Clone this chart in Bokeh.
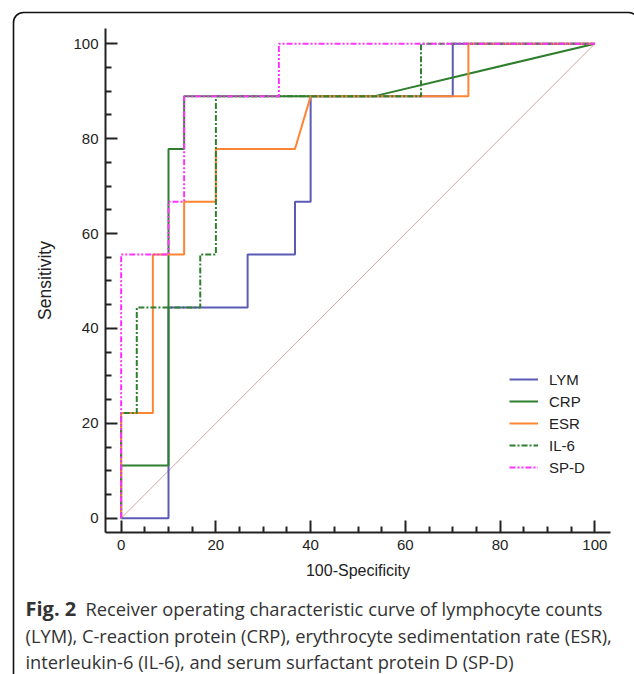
from bokeh.plotting import figure
from bokeh.models import FixedTicker, Range1d
from bokeh.core.properties import value
from bokeh.embed import file_html
from bokeh.resources import INLINE

# ---- data (100-Specificity, Sensitivity) ----
series_names = ["LYM", "CRP", "ESR", "IL-6", "SP-D"]

lym_x = [0, 10, 10, 26.7, 26.7, 36.7, 36.7, 40, 40, 70, 70, 100]
lym_y = [0, 0, 44.4, 44.4, 55.6, 55.6, 66.7, 66.7, 88.9, 88.9, 100, 100]

crp_x = [0, 0, 10, 10, 13.3, 13.3, 53.3, 100]
crp_y = [0, 11.1, 11.1, 77.8, 77.8, 88.9, 88.9, 100]

esr_x = [0, 0, 6.7, 6.7, 13.3, 13.3, 20, 20, 36.7, 40, 73.3, 73.3, 100]
esr_y = [0, 22.2, 22.2, 55.6, 55.6, 66.7, 66.7, 77.8, 77.8, 88.9, 88.9, 100, 100]

il6_x = [0, 0, 3.3, 3.3, 16.7, 16.7, 20, 20, 63.3, 63.3, 100]
il6_y = [0, 22.2, 22.2, 44.4, 44.4, 55.6, 55.6, 88.9, 88.9, 100, 100]

spd_x = [0, 0, 10, 10, 13.3, 13.3, 33.3, 33.3, 100]
spd_y = [0, 55.6, 55.6, 66.7, 66.7, 88.9, 88.9, 100, 100]

chance_x = [0, 100]
chance_y = [0, 100]

major_ticks = [0, 20, 40, 60, 80, 100]
minor_ticks = [5, 10, 15, 25, 30, 35, 45, 50, 55, 65, 70, 75, 85, 90, 95]

x_label = "100-Specificity"
y_label = "Sensitivity"
caption_bold = "Fig. 2"
caption_lines = [
    "Receiver operating characteristic curve of lymphocyte counts",
    "(LYM), C-reaction protein (CRP), erythrocyte sedimentation rate (ESR),",
    "interleukin-6 (IL-6), and serum surfactant protein D (SP-D)",
]

AX_FONT = "Liberation Sans"
CAP_FONT = "Open Sans"
INK = "#222222"

# ---- layout (pixels) ----
W, H = 634, 674
FL, FR, FT, FB = 105, 610, 28, 532        # frame edges in page pixels
X0, X1 = -3.3, 103.3
Y0, Y1 = -3.0, 103.2


def px2x(px):
    return X0 + (px - FL) * (X1 - X0) / (FR - FL)


def py2y(py):
    return Y0 + (FB - py) * (Y1 - Y0) / (FB - FT)


p = figure(
    width=W, height=H,
    output_backend="svg", toolbar_location=None,
    x_range=Range1d(X0, X1), y_range=Range1d(Y0, Y1),
    min_border_left=FL, min_border_right=W - FR,
    min_border_top=FT, min_border_bottom=H - FB,
)
p.outline_line_color = None
p.xgrid.visible = False
p.ygrid.visible = False
p.background_fill_color = "white"
p.border_fill_color = "white"

for ax in (p.xaxis[0], p.yaxis[0]):
    ax.ticker = FixedTicker(ticks=major_ticks, minor_ticks=minor_ticks)
    ax.axis_line_color = INK
    ax.axis_line_width = 2
    ax.major_tick_line_color = INK
    ax.major_tick_line_width = 2
    ax.minor_tick_line_color = INK
    ax.minor_tick_line_width = 2
    ax.major_tick_in = 12
    ax.major_tick_out = 0
    ax.minor_tick_in = 6
    ax.minor_tick_out = 0
    ax.major_label_text_font = AX_FONT
    ax.major_label_text_font_size = "15px"
    ax.major_label_text_color = INK
    ax.major_label_standoff = 7
    ax.axis_label_text_font = AX_FONT
    ax.axis_label_text_font_style = "normal"
    ax.axis_label_text_color = INK

p.xaxis.axis_label = x_label
p.yaxis.axis_label = y_label
p.xaxis.axis_label_text_font_size = "16px"
p.yaxis.axis_label_text_font_size = "17.5px"
p.xaxis.axis_label_standoff = 9
p.yaxis.axis_label_standoff = 15

p.line(chance_x, chance_y, line_color="#d6a6a6", line_width=1)
p.line(lym_x, lym_y, line_color="#5b5bb5", line_width=2, legend_label=series_names[0])
p.line(crp_x, crp_y, line_color="#2f7f2f", line_width=2, legend_label=series_names[1])
p.line(esr_x, esr_y, line_color="#ff8533", line_width=2, legend_label=series_names[2])
p.line(il6_x, il6_y, line_color="#2f7f2f", line_width=2, line_dash="6 2 2 2",
       legend_label=series_names[3])
p.line(spd_x, spd_y, line_color="#ff33ff", line_width=2, line_dash="6 2 2 2 2 2",
       legend_label=series_names[4])

lg = p.legend[0]
lg.location = (404, 55)
lg.border_line_color = None
lg.background_fill_alpha = 0
lg.padding = 0
lg.margin = 0
lg.spacing = 2
lg.glyph_width = 29
lg.glyph_height = 20
lg.label_height = 20
lg.label_standoff = 11
lg.label_text_font = AX_FONT
lg.label_text_font_size = "15px"
lg.label_text_color = INK

# ---- caption (overlay-level text so that it is not clipped to the frame) ----
CAP_SIZE = "18.3px"
cap_left = 25
cap_bold_w = 60
cap_base = [608, 635, 661]
p.text(x=[px2x(cap_left)], y=[py2y(cap_base[0])], text=[caption_bold],
       text_font=value(CAP_FONT), text_font_style="bold", text_font_size="20px",
       text_color="#333333", text_baseline="alphabetic", level="overlay")
p.text(x=[px2x(cap_left + cap_bold_w)], y=[py2y(cap_base[0])], text=[caption_lines[0]],
       text_font=value(CAP_FONT), text_font_size=CAP_SIZE,
       text_color="#333333", text_baseline="alphabetic", level="overlay")
p.text(x=[px2x(cap_left)] * 2, y=[py2y(b) for b in cap_base[1:]], text=caption_lines[1:],
       text_font=value(CAP_FONT), text_font_size=CAP_SIZE,
       text_color="#333333", text_baseline="alphabetic", level="overlay")

# ---- rounded frame around chart and caption ----
p.quad(left=[px2x(13)], right=[px2x(638)], top=[py2y(12)], bottom=[py2y(H + 40)],
       fill_color=None, line_color="#111111", line_width=1.6,
       border_radius=10, level="overlay")

open("out.html", "w").write(file_html(p, INLINE))
